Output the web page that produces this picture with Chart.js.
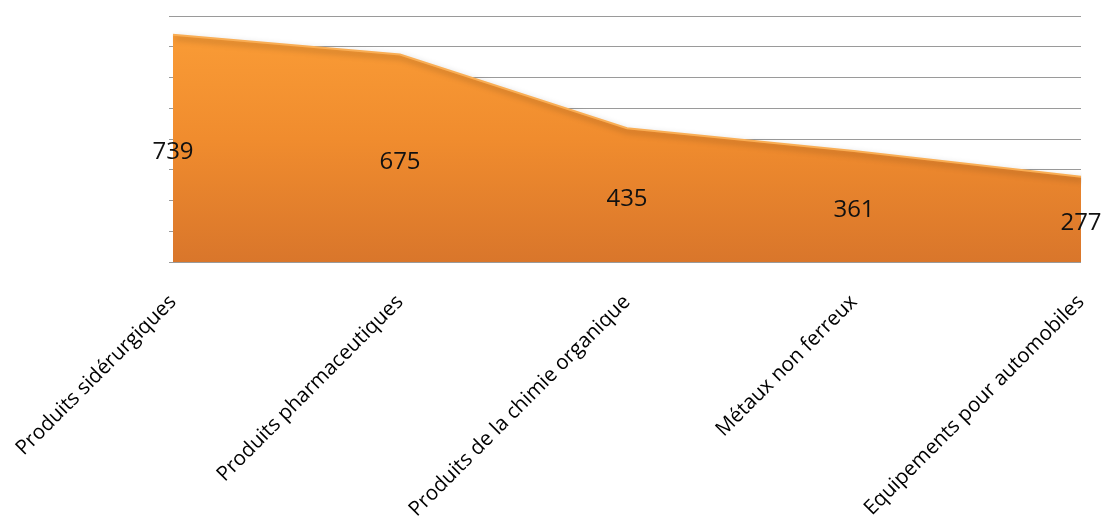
<!DOCTYPE html>
<html>
<head>
<meta charset="utf-8">
<script src="https://cdn.jsdelivr.net/npm/chart.js@4/dist/chart.umd.min.js"></script>
<style>
  html, body { margin: 0; padding: 0; background: #fff; }
  #wrap { width: 1101px; height: 520px; }
</style>
</head>
<body>
<div id="wrap"><canvas id="myChart" width="1101" height="520"></canvas></div>
<script>
// data
const categories = [
  'Produits sidérurgiques',
  'Produits pharmaceutiques',
  'Produits de la chimie organique',
  'Métaux non ferreux',
  'Equipements pour automobiles'
];
const values = [739, 675, 435, 361, 277];
const yMax = 800;
const yStep = 100;

// shadow under the area
const shadowPlugin = {
  id: 'areaShadow',
  beforeDatasetDraw(chart) {
    const ctx = chart.ctx;
    ctx.save();
    ctx.shadowColor = 'rgba(0,0,0,0.35)';
    ctx.shadowBlur = 6;
    ctx.shadowOffsetX = 2;
    ctx.shadowOffsetY = 3;
  },
  afterDatasetDraw(chart) {
    chart.ctx.restore();
  }
};

// value labels, centred halfway up the area
const valueLabels = {
  id: 'valueLabels',
  afterDatasetsDraw(chart) {
    const ctx = chart.ctx;
    const meta = chart.getDatasetMeta(0);
    const yScale = chart.scales.y;
    ctx.save();
    ctx.font = '24px "Open Sans"';
    ctx.fillStyle = '#111';
    ctx.textAlign = 'center';
    ctx.textBaseline = 'middle';
    meta.data.forEach((pt, i) => {
      const y = yScale.getPixelForValue(values[i] / 2) + 4;
      ctx.fillText(values[i], pt.x, y);
    });
    ctx.restore();
  }
};

const ctx = document.getElementById('myChart').getContext('2d');
const myChart = new Chart(ctx, {
  type: 'line',
  data: {
    labels: categories,
    datasets: [{
      data: values,
      fill: 'origin',
      tension: 0,
      pointRadius: 0,
      borderWidth: 2,
      borderColor: '#F9AE55',
      backgroundColor: (c) => {
        const area = c.chart.chartArea;
        if (!area) return '#F28E2E';
        const g = c.chart.ctx.createLinearGradient(0, area.top, 0, area.bottom);
        g.addColorStop(0, '#FB9E37');
        g.addColorStop(0.5, '#F08C2E');
        g.addColorStop(1, '#D9762B');
        return g;
      }
    }]
  },
  options: {
    responsive: false,
    animation: false,
    layout: { padding: { top: 16, right: 20, left: 0, bottom: 0 } },
    plugins: {
      legend: { display: false },
      tooltip: { enabled: false }
    },
    scales: {
      x: {
        offset: false,
        grid: { display: false },
        border: { display: false },
        ticks: {
          minRotation: 45,
          maxRotation: 45,
          autoSkip: false,
          color: '#000',
          font: { family: 'Open Sans', size: 20.5 },
          padding: 20
        },
        afterFit(scale) {
          scale.height = 258;
          scale.paddingLeft = 0;
          scale.paddingRight = 0;
        }
      },
      y: {
        min: 0,
        max: yMax,
        ticks: { stepSize: yStep, display: false },
        grid: { color: '#9a9a9a', lineWidth: 1, tickLength: 4 },
        border: { display: false },
        afterFit(scale) { scale.width = 173; }
      }
    }
  },
  plugins: [shadowPlugin, valueLabels]
});
</script>
</body>
</html>
